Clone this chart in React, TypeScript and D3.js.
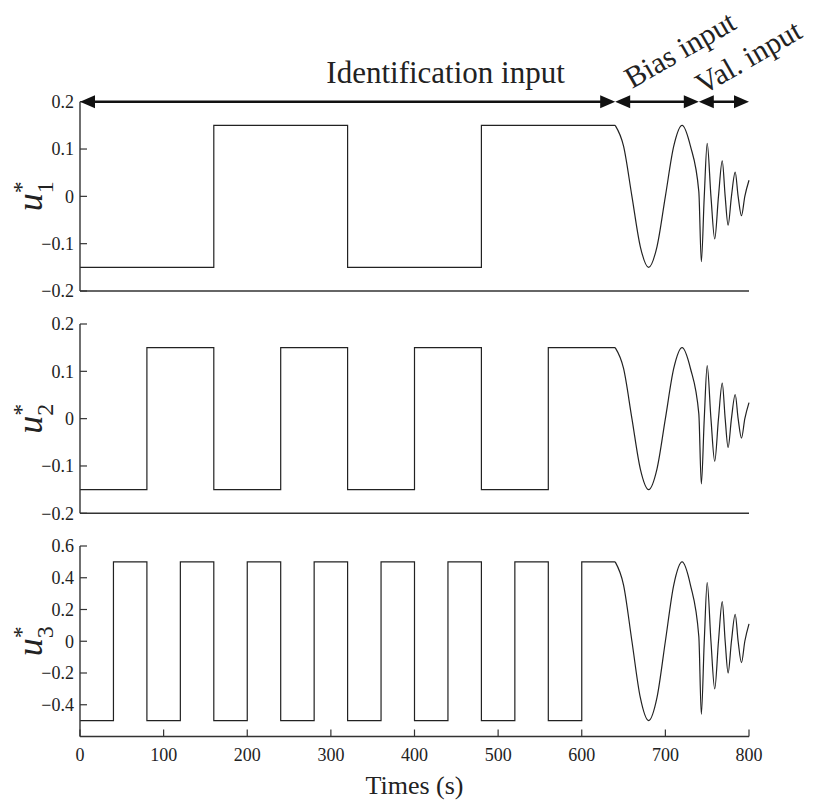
import React from "react";
import * as d3 from "d3";

const width = 813;
const height = 801;

const xTicks = [0, 100, 200, 300, 400, 500, 600, 700, 800];

// identification steps (value holds until next time)
const u1Times = [0, 160, 320, 480, 640];
const u1Levels = [-0.15, 0.15, -0.15, 0.15, 0.15];
const u2Times = [0, 80, 160, 240, 320, 400, 480, 560, 640];
const u2Levels = [-0.15, 0.15, -0.15, 0.15, -0.15, 0.15, -0.15, 0.15, 0.15];
const u3Times = [0, 40, 80, 120, 160, 200, 240, 280, 320, 360, 400, 440, 480, 520, 560, 600, 640];
const u3Levels = [-0.5, 0.5, -0.5, 0.5, -0.5, 0.5, -0.5, 0.5, -0.5, 0.5, -0.5, 0.5, -0.5, 0.5, -0.5, 0.5, 0.5];

// bias + validation part
const tailTimes = [640, 650, 660, 670, 680, 690, 700, 710, 720, 730, 740, 743, 746.5, 750, 754.5, 759, 763.5, 768, 771.5, 775, 779, 783.5, 787, 791, 795, 800];
const tailSmall = [0.15, 0.106, 0, -0.106, -0.15, -0.106, 0, 0.106, 0.15, 0.106, 0.01, -0.138, 0, 0.112, 0, -0.09, 0, 0.075, 0, -0.061, 0, 0.051, 0, -0.041, 0, 0.034];
const tailBig = [0.5, 0.354, 0, -0.354, -0.5, -0.354, 0, 0.354, 0.5, 0.354, 0.03, -0.46, 0, 0.37, 0, -0.3, 0, 0.25, 0, -0.2, 0, 0.17, 0, -0.135, 0, 0.11];

const smallTicks = [-0.2, -0.1, 0, 0.1, 0.2];
const bigTicks = [-0.4, -0.2, 0, 0.2, 0.4, 0.6];

const segments = [
  { label: "Identification input", from: 0, to: 640 },
  { label: "Bias input", from: 640, to: 740 },
  { label: "Val. input", from: 740, to: 800 },
];

const panels = [
  { sub: "1", top: 101.7, bottom: 291, domain: [-0.2, 0.2], ticks: smallTicks, times: u1Times, levels: u1Levels, tail: tailSmall, xAxis: false },
  { sub: "2", top: 324, bottom: 513.3, domain: [-0.2, 0.2], ticks: smallTicks, times: u2Times, levels: u2Levels, tail: tailSmall, xAxis: false },
  { sub: "3", top: 546, bottom: 736.5, domain: [-0.6, 0.6], ticks: bigTicks, times: u3Times, levels: u3Levels, tail: tailBig, xAxis: true },
];

const x = d3.scaleLinear().domain([0, 800]).range([80, 749]);
const font = "'Liberation Serif', 'DejaVu Serif', serif";
const ink = "#222";
const fmt = (v: number) => {
  if (v === 0) return "0";
  const s = Math.abs(v).toFixed(1);
  return (v < 0 ? "\u2212" : "") + s;
};

function Panel({ p }: { p: any }) {
  const y = d3.scaleLinear().domain(p.domain).range([p.bottom, p.top]);
  const stepLine = d3
    .line<number>()
    .x((d, i) => x(p.times[i]))
    .y((d) => y(d))
    .curve(d3.curveStepAfter);
  const tailLine = d3
    .line<number>()
    .x((d, i) => x(tailTimes[i]))
    .y((d) => y(d))
    .curve(d3.curveMonotoneX);
  const midY = (p.top + p.bottom) / 2;
  return (
    <g>
      <path d={stepLine(p.levels) || ""} fill="none" stroke={ink} strokeWidth={1.2} />
      <path d={tailLine(p.tail) || ""} fill="none" stroke={ink} strokeWidth={1.2} />
      {/* axes */}
      <line x1={x(0)} x2={x(0)} y1={p.top} y2={p.bottom} stroke="#333" strokeWidth={1.4} />
      <line x1={x(0)} x2={x(800)} y1={p.bottom} y2={p.bottom} stroke="#333" strokeWidth={1.4} />
      {p.ticks.map((t: number) => (
        <g key={t}>
          <line x1={x(0)} x2={x(0) + 7} y1={y(t)} y2={y(t)} stroke="#333" strokeWidth={1.2} />
          <text x={x(0) - 6} y={y(t)} dy="0.35em" textAnchor="end" fontFamily={font} fontSize={18} fill={ink}>
            {fmt(t)}
          </text>
        </g>
      ))}
      {p.xAxis &&
        xTicks.map((t) => (
          <g key={t}>
            <line x1={x(t)} x2={x(t)} y1={p.bottom} y2={p.bottom - 7} stroke="#333" strokeWidth={1.2} />
            <text x={x(t)} y={p.bottom + 24} textAnchor="middle" fontFamily={font} fontSize={18} fill={ink}>
              {t}
            </text>
          </g>
        ))}
      <text transform={`translate(42, ${midY}) rotate(-90)`} textAnchor="middle" fontFamily={font} fontSize={36} fill={ink}>
        <tspan fontStyle="italic">u</tspan>
        <tspan fontSize={24} dy={-13}>*</tspan>
        <tspan fontSize={24} dx={-12} dy={24}>{p.sub}</tspan>
      </text>
    </g>
  );
}

function Arrow({ from, to, yPos }: { from: number; to: number; yPos: number }) {
  const a = x(from);
  const b = x(to);
  const L = 15;
  const H = 6.5;
  return (
    <g>
      <line x1={a + 4} x2={b - 4} y1={yPos} y2={yPos} stroke="#111" strokeWidth={2.6} />
      <polygon points={`${a},${yPos} ${a + L},${yPos - H} ${a + L},${yPos + H}`} fill="#111" />
      <polygon points={`${b},${yPos} ${b - L},${yPos - H} ${b - L},${yPos + H}`} fill="#111" />
    </g>
  );
}

export default function App() {
  const arrowY = panels[0].top;
  return (
    <svg width={width} height={height} style={{ position: "absolute", left: 0, top: 0, background: "#fff" }}>
      {panels.map((p) => (
        <Panel key={p.sub} p={p} />
      ))}
      {segments.map((s) => (
        <Arrow key={s.label} from={s.from} to={s.to} yPos={arrowY} />
      ))}
      <text x={(x(segments[0].from) + x(segments[0].to)) / 2 + 98} y={83} textAnchor="middle" fontFamily={font} fontSize={31} fill={ink}>
        {segments[0].label}
      </text>
      <text transform={`translate(632, 89) rotate(-30)`} fontFamily={font} fontSize={30} fill={ink}>
        {segments[1].label}
      </text>
      <text transform={`translate(703, 95) rotate(-30)`} fontFamily={font} fontSize={30} fill={ink}>
        {segments[2].label}
      </text>
      <text x={x(400)} y={794} textAnchor="middle" fontFamily={font} fontSize={26} fill={ink}>
        Times (s)
      </text>
    </svg>
  );
}
